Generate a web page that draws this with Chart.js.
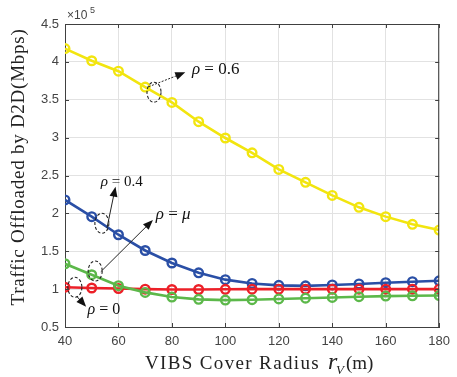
<!DOCTYPE html>
<html>
<head>
<meta charset="utf-8">
<script src="https://cdn.jsdelivr.net/npm/chart.js@4/dist/chart.umd.min.js"></script>
<style>
  html, body { margin: 0; padding: 0; background: #fff; }
  #wrap { width: 457px; height: 377px; }
</style>
</head>
<body>
<div id="wrap"><canvas id="chart" width="457" height="377"></canvas></div>
<script>
// values, in units of 10^5 Mbps
const radius = [40, 50, 60, 70, 80, 90, 100, 110, 120, 130, 140, 150, 160, 170, 180];
const rho06 = [4.175, 4.015, 3.877, 3.667, 3.465, 3.21, 2.995, 2.80, 2.58, 2.41, 2.237, 2.08, 1.957, 1.855, 1.78];
const rho04 = [2.178, 1.957, 1.718, 1.51, 1.345, 1.215, 1.125, 1.075, 1.05, 1.043, 1.055, 1.068, 1.085, 1.098, 1.11];
const rho0 = [1.025, 1.015, 1.008, 1.0, 0.995, 0.995, 0.998, 1.0, 1.0, 1.0, 1.0, 1.0, 1.0, 1.0, 1.0];
const rhoMu = [1.335, 1.19, 1.045, 0.957, 0.895, 0.865, 0.855, 0.86, 0.87, 0.88, 0.89, 0.9, 0.908, 0.912, 0.915];
const xTicks = [40, 60, 80, 100, 120, 140, 160, 180];
const yTicks = [0.5, 1, 1.5, 2, 2.5, 3, 3.5, 4, 4.5];
const exponent = 5;

// annotation anchors in data units
const notes = [
  { label: '0.6', ell: [73.3, 3.60], from: [71.3, 3.672], to: [85.0, 3.862], text: [87.5, 3.893], size: 17, dotted: true },
  { label: '0.4', ell: [53.8, 1.869], from: [55.7, 1.807], to: [58.9, 2.352], text: [53.4, 2.418], size: 15 },
  { label: 'μ', ell: [51.3, 1.239], from: [53.4, 1.23], to: [72.9, 1.913], text: [74, 1.979], size: 17, italic: true },
  { label: '0', ell: [43.7, 1.024], from: [44.3, 0.909], to: [47.9, 0.768], text: [48.4, 0.724], size: 16 }
];

const AXIS = '#404040';

const toPts = vals => vals.map((v, i) => ({ x: radius[i], y: v }));

function series(data, color) {
  return {
    data: toPts(data),
    borderColor: color,
    backgroundColor: 'rgba(0,0,0,0)',
    borderWidth: 2.6,
    pointRadius: 4.3,
    pointBorderWidth: 2.4,
    pointBorderColor: color,
    pointBackgroundColor: 'rgba(0,0,0,0)'
  };
}

function arrow(ctx, x1, y1, x2, y2, dotted) {
  const ang = Math.atan2(y2 - y1, x2 - x1);
  const hl = 10, hw = 4;
  ctx.save();
  ctx.strokeStyle = '#222';
  ctx.fillStyle = '#111';
  ctx.lineWidth = 1;
  if (dotted) ctx.setLineDash([2, 1.5]);
  ctx.beginPath();
  ctx.moveTo(x1, y1);
  ctx.lineTo(x2 - Math.cos(ang) * hl * 0.8, y2 - Math.sin(ang) * hl * 0.8);
  ctx.stroke();
  ctx.setLineDash([]);
  ctx.beginPath();
  ctx.moveTo(x2, y2);
  ctx.lineTo(x2 - Math.cos(ang) * hl - Math.sin(ang) * hw, y2 - Math.sin(ang) * hl + Math.cos(ang) * hw);
  ctx.lineTo(x2 - Math.cos(ang) * hl + Math.sin(ang) * hw, y2 - Math.sin(ang) * hl - Math.cos(ang) * hw);
  ctx.closePath();
  ctx.fill();
  ctx.restore();
}

const decorations = {
  id: 'decorations',
  afterDraw(chart) {
    const { ctx, chartArea: a, scales: { x, y } } = chart;
    ctx.save();
    // box + inner ticks
    ctx.strokeStyle = AXIS;
    ctx.lineWidth = 1;
    ctx.beginPath();
    ctx.moveTo(a.left, a.top + 0.5); ctx.lineTo(a.right, a.top + 0.5);
    ctx.moveTo(a.right - 0.5, a.top); ctx.lineTo(a.right - 0.5, a.bottom);
    xTicks.forEach(v => {
      const px = Math.round(x.getPixelForValue(v)) + 0.5;
      ctx.moveTo(px, a.bottom); ctx.lineTo(px, a.bottom - 4);
      ctx.moveTo(px, a.top); ctx.lineTo(px, a.top + 4);
    });
    yTicks.forEach(v => {
      const py = Math.round(y.getPixelForValue(v)) + 0.5;
      ctx.moveTo(a.left, py); ctx.lineTo(a.left + 4, py);
      ctx.moveTo(a.right, py); ctx.lineTo(a.right - 4, py);
    });
    ctx.stroke();

    // exponent
    ctx.fillStyle = '#444';
    ctx.textBaseline = 'alphabetic';
    ctx.textAlign = 'left';
    ctx.font = '12px "Liberation Sans", Arial, sans-serif';
    ctx.fillText('×10', a.left + 2, a.top - 5);
    ctx.font = '9px "Liberation Sans", Arial, sans-serif';
    ctx.fillText(String(exponent), a.left + 25, a.top - 11);

    // axis titles
    ctx.fillStyle = '#222';
    ctx.font = '19px "Liberation Serif", "DejaVu Serif", serif';
    const xt = 'VIBS Cover Radius';
    ctx.letterSpacing = '0px';
    let w = ctx.measureText(xt).width;
    ctx.letterSpacing = ((175 - w) / xt.length) + 'px';
    ctx.fillText(xt, 145, 369);
    ctx.letterSpacing = '0px';
    ctx.font = 'italic 24px "Liberation Serif", serif';
    ctx.fillText('r', 328, 369);
    ctx.font = 'italic 13px "Liberation Serif", serif';
    ctx.fillText('V', 336, 374);
    ctx.font = '19px "Liberation Serif", serif';
    ctx.fillText('(m)', 346, 369);

    const yt = 'Traffic Offloaded by D2D(Mbps)';
    ctx.save();
    ctx.translate(24, 167);
    ctx.rotate(-Math.PI / 2);
    ctx.textAlign = 'center';
    ctx.font = '19px "Liberation Serif", "DejaVu Serif", serif';
    w = ctx.measureText(yt).width;
    ctx.letterSpacing = ((277 - w) / yt.length) + 'px';
    ctx.fillText(yt, 0, 0);
    ctx.restore();

    // annotations
    notes.forEach(n => {
      const ex = x.getPixelForValue(n.ell[0]), ey = y.getPixelForValue(n.ell[1]);
      ctx.save();
      ctx.strokeStyle = '#222';
      ctx.lineWidth = 1.1;
      ctx.setLineDash([3, 2]);
      ctx.beginPath();
      ctx.ellipse(ex, ey, 7, 10, 0, 0, Math.PI * 2);
      ctx.stroke();
      ctx.restore();
      arrow(ctx, x.getPixelForValue(n.from[0]), y.getPixelForValue(n.from[1]),
        x.getPixelForValue(n.to[0]), y.getPixelForValue(n.to[1]), n.dotted);
      let tx = x.getPixelForValue(n.text[0]);
      const ty = y.getPixelForValue(n.text[1]);
      ctx.fillStyle = '#111';
      ctx.textBaseline = 'middle';
      ctx.textAlign = 'left';
      ctx.font = `italic ${n.size}px "Liberation Serif", serif`;
      ctx.fillText('ρ', tx, ty);
      tx += ctx.measureText('ρ').width;
      ctx.font = `${n.size}px "Liberation Serif", serif`;
      ctx.fillText(' = ', tx, ty);
      tx += ctx.measureText(' = ').width;
      ctx.font = `${n.italic ? 'italic ' : ''}${n.size}px "Liberation Serif", serif`;
      ctx.fillText(n.label, tx, ty);
    });
    ctx.restore();
  }
};

new Chart(document.getElementById('chart'), {
  type: 'line',
  data: {
    datasets: [
      series(rhoMu, '#5cb84a'),
      series(rho0, '#ec2028'),
      series(rho04, '#2a4fa6'),
      series(rho06, '#f2e50f')
    ]
  },
  options: {
    responsive: false,
    animation: false,
    devicePixelRatio: 1,
    layout: { padding: { left: 0, top: 24, right: 9, bottom: 0 } },
    plugins: { legend: { display: false }, tooltip: { enabled: false } },
    scales: {
      x: {
        type: 'linear',
        min: 40,
        max: 180,
        afterFit: s => { s.height = 50; },
        afterBuildTicks: s => { s.ticks = xTicks.map(v => ({ value: v })); },
        grid: { color: '#e2e2e2', drawTicks: false },
        border: { color: AXIS, width: 1 },
        ticks: { padding: 7, color: '#444', callback: v => String(v), font: { family: '"Liberation Sans", Arial, sans-serif', size: 13 } }
      },
      y: {
        min: 0.5,
        max: 4.5,
        afterFit: s => { s.width = 65; },
        afterBuildTicks: s => { s.ticks = yTicks.map(v => ({ value: v })); },
        grid: { color: '#e2e2e2', drawTicks: false },
        border: { color: AXIS, width: 1 },
        ticks: { padding: 6, color: '#444', callback: v => String(v), font: { family: '"Liberation Sans", Arial, sans-serif', size: 13 } }
      }
    }
  },
  plugins: [decorations]
});
</script>
</body>
</html>
